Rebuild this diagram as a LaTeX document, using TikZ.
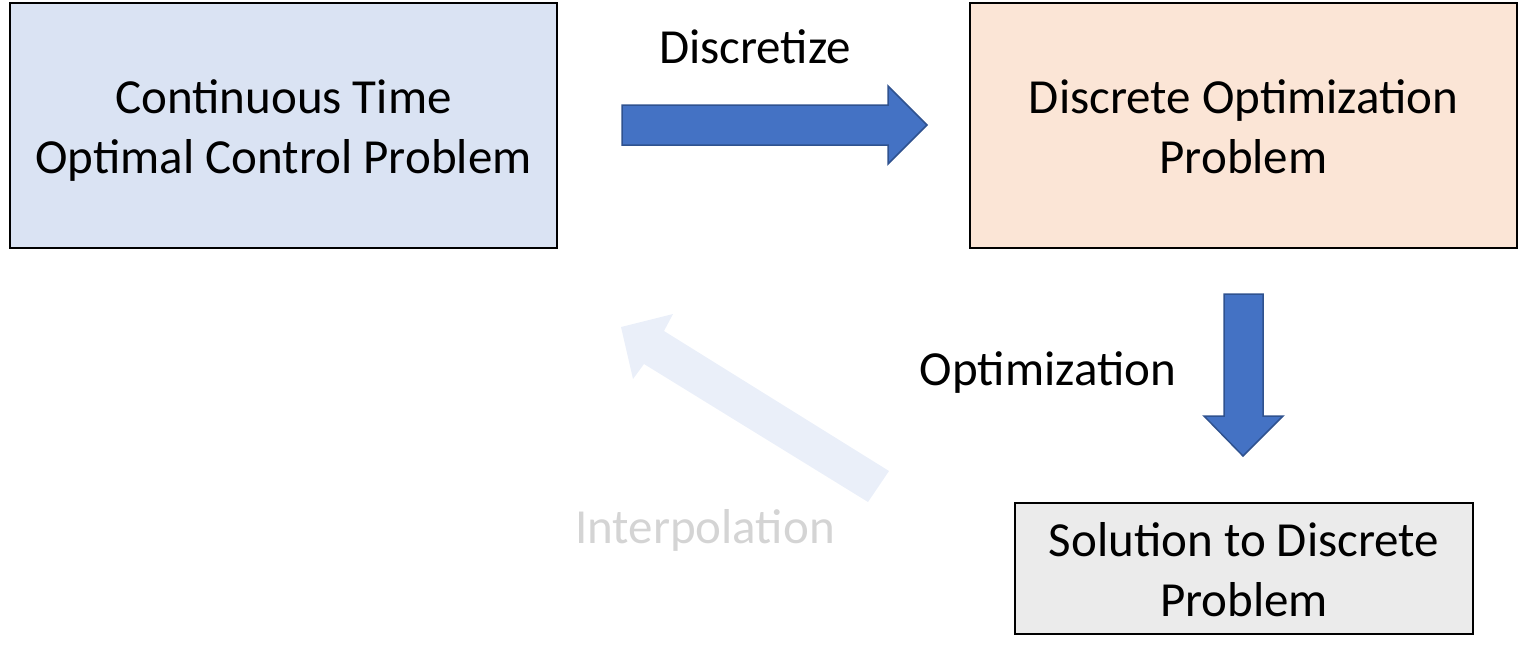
\documentclass[tikz,border=0pt]{standalone}
\usepackage{fontspec}
\setmainfont{Carlito}
\definecolor{ctblue}{HTML}{DAE3F3}
\definecolor{dorange}{HTML}{FBE5D6}
\definecolor{solgray}{HTML}{EBEBEB}
\definecolor{arrowblue}{HTML}{4472C4}
\definecolor{arrowedge}{HTML}{2F528F}
\newcommand{\tstrut}{\rule{0pt}{26.5pt}}
\begin{document}
\begin{tikzpicture}[x=0.5pt,y=-0.5pt,
  box/.style={draw=black,line width=1pt,inner sep=0pt,align=center,font=\fontsize{24.5}{30}\selectfont},
  lbl/.style={font=\fontsize{24.5}{30}\selectfont},
  blockarrow/.style={fill=arrowblue,draw=arrowedge,line width=0.75pt,line join=miter}]
\useasboundingbox (0,0) rectangle (1518,659);

\node[box,fill=ctblue,minimum width=273.5pt,minimum height=122.5pt] (ct) at (283.5,125.5) {\tstrut Continuous Time\\\strut Optimal Control Problem};
\node[box,fill=dorange,minimum width=273.5pt,minimum height=122.5pt] (dop) at (1243.5,125.5) {\tstrut Discrete Optimization\\\strut Problem};
\node[box,fill=solgray,minimum width=229pt,minimum height=65.5pt] (sol) at (1244,568.5) {\tstrut Solution to Discrete\\\strut Problem};

% discretize
\draw[blockarrow] (622,105)--(888,105)--(888,86)--(927,125)--(888,164)--(888,145)--(622,145)--cycle;
\node[lbl] (disc) at (755,47) {Discretize};

% optimization
\draw[blockarrow] (1224,294)--(1263,294)--(1263,416)--(1283,416)--(1243,456)--(1204,416)--(1224,416)--cycle;
\node[lbl] (opt) at (1048,372) {Optimization};

% interpolation (faded)
\fill[arrowblue!11] (621,327)--(673,314)--(664,331)--(889,471)--(868,502)--(644,364)--(633,379)--cycle;
\node[lbl,text=black!17] (interp) at (705,530) {Interpolation};
\end{tikzpicture}
\end{document}
